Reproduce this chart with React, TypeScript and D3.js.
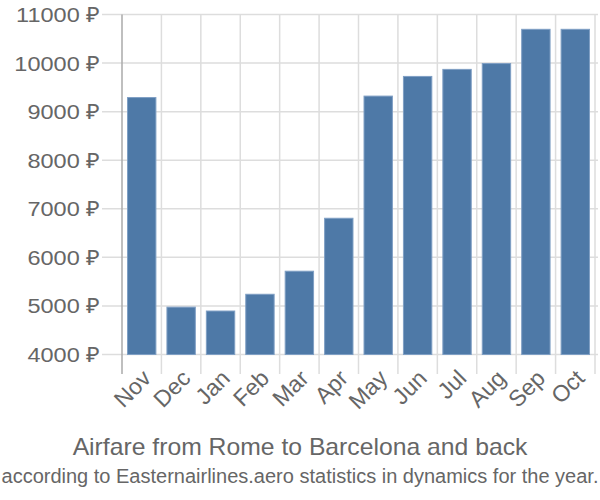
import React from "react";
import * as d3 from "d3";

const months = ["Nov", "Dec", "Jan", "Feb", "Mar", "Apr", "May", "Jun", "Jul", "Aug", "Sep", "Oct"];
const prices = [9290, 4975, 4895, 5240, 5715, 6805, 9320, 9725, 9870, 9990, 10695, 10695];
const yTicks = [4000, 5000, 6000, 7000, 8000, 9000, 10000, 11000];
const title = "Airfare from Rome to Barcelona and back";
const subtitle = "according to Easternairlines.aero statistics in dynamics for the year.";

const W = 600, H = 500;
const left = 122, right = 595, top = 14.5, bottom = 354.5;

export default function App() {
  const x = d3.scaleBand<string>().domain(months).range([left, right]).paddingInner(0.28).paddingOuter(0.14);
  const step = x.step();
  const y = d3.scaleLinear().domain([4000, 11000]).range([bottom, top]);
  const font = "'Liberation Sans', Arial, sans-serif";
  return (
    <svg width={W} height={H} style={{ position: "absolute", left: 0, top: 0 }}>
      <rect width={W} height={H} fill="#fff" />
      {yTicks.map((t) => (
        <line key={t} x1={102} x2={right + 3} y1={y(t)} y2={y(t)} stroke="#ddd" strokeWidth={1.5} />
      ))}
      {months.map((m, i) => (
        <line key={m} x1={left + step * (i + 1)} x2={left + step * (i + 1)} y1={top} y2={374} stroke="#ddd" strokeWidth={1.5} />
      ))}
      <line x1={left} x2={left} y1={top} y2={374} stroke="#aaa" strokeWidth={1.5} />
      {months.map((m, i) => (
        <rect key={m} x={x(m)!} y={y(prices[i])} width={x.bandwidth()} height={bottom - y(prices[i])}
          fill="#4e79a7" stroke="#7f9fc4" strokeWidth={1} />
      ))}
      {yTicks.map((t) => (
        <text key={t} transform={`translate(100,${y(t)}) scale(1.12,1)`} dy="0.36em" textAnchor="end" fill="#666" fontSize={21} fontFamily={font}>
          {t} ₽
        </text>
      ))}
      {months.map((m) => {
        const cx = x(m)! + x.bandwidth() / 2 + 5;
        return (
          <text key={m} transform={`translate(${cx},374) rotate(-45)`} textAnchor="end" dy="0.35em" fill="#666" fontSize={23} fontFamily={font}>
            {m}
          </text>
        );
      })}
      <text x={W / 2} y={455} textAnchor="middle" fill="#666" fontSize={24} fontFamily={font} transform="translate(300,0) scale(1.03,1) translate(-300,0)">{title}</text>
      <text x={W / 2} y={483} textAnchor="middle" fill="#666" fontSize={20} fontFamily={font}>{subtitle}</text>
    </svg>
  );
}
